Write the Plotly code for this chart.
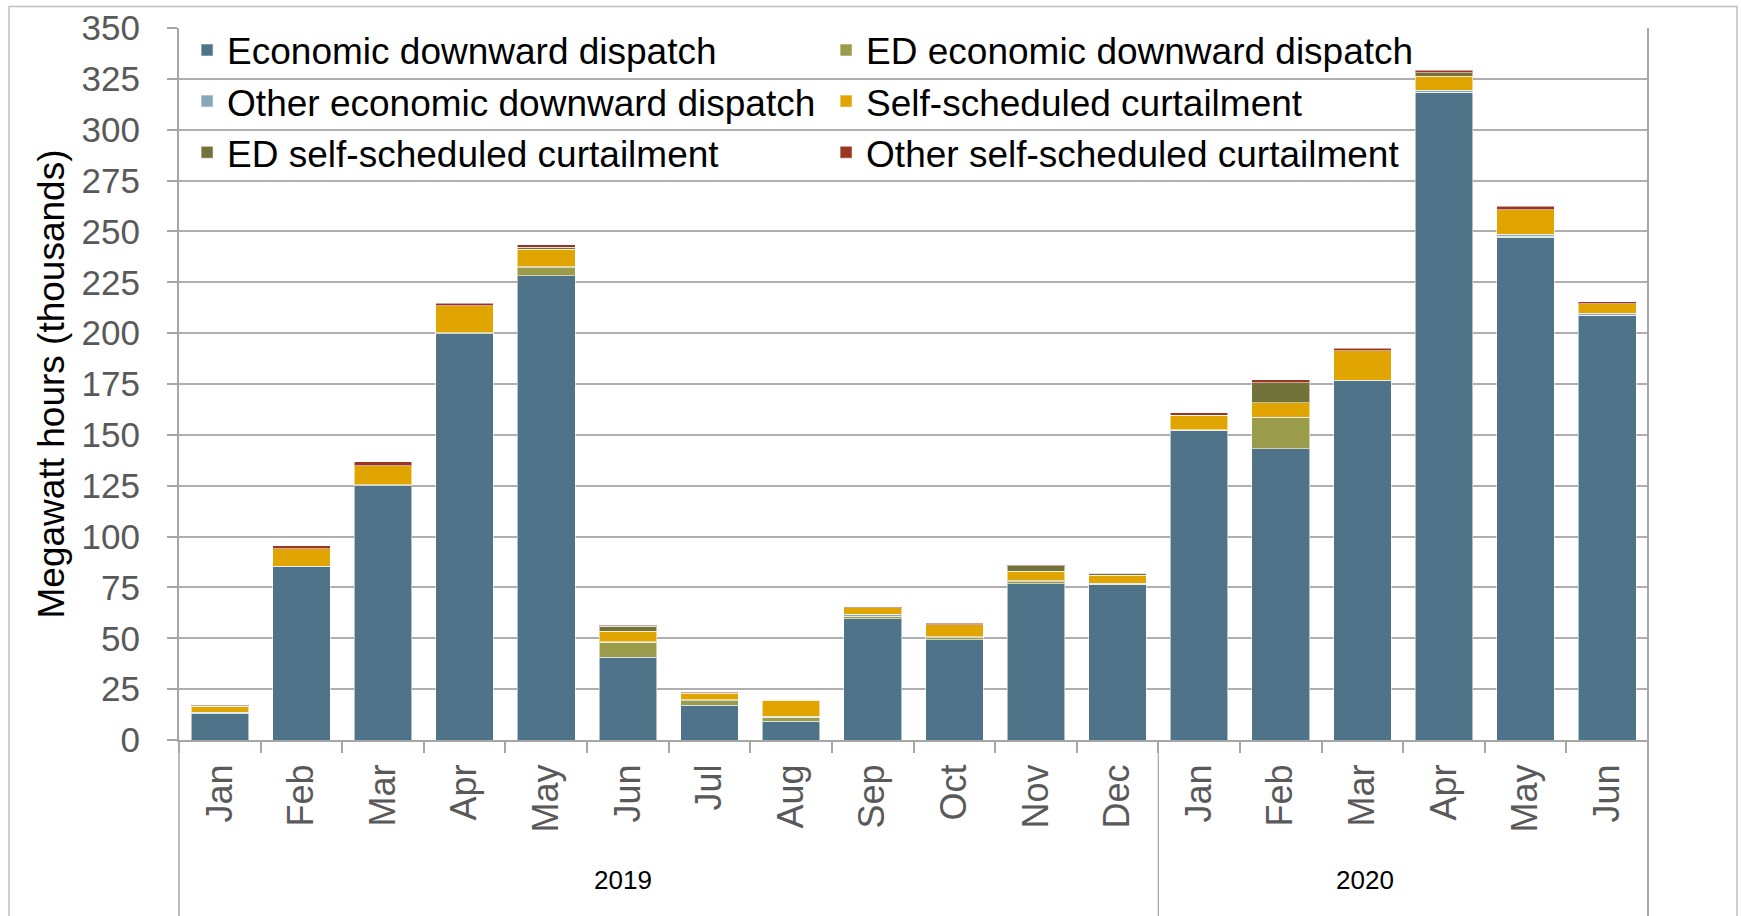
import plotly.graph_objects as go

# ---- data (thousands of MWh) ----
months = ["Jan", "Feb", "Mar", "Apr", "May", "Jun", "Jul", "Aug", "Sep", "Oct", "Nov", "Dec",
          "Jan", "Feb", "Mar", "Apr", "May", "Jun"]
years = ["2019", "2020"]
year_counts = [12, 6]

econ_dd = [13.1, 85.1, 125.1, 199.6, 228.2, 40.7, 17.1, 9.2, 59.6, 49.3, 76.7, 76.2,
           152.2, 143.1, 176.5, 318.4, 247.1, 208.7]
ed_econ_dd = [0.3, 0.0, 0.0, 0.0, 4.0, 7.3, 2.3, 2.0, 1.3, 0.9, 1.1, 0.4,
              0.0, 15.3, 0.0, 0.0, 0.5, 0.0]
other_econ_dd = [0.3, 0.3, 0.3, 0.5, 0.5, 0.3, 0.3, 0.6, 0.8, 0.5, 0.5, 0.4,
                 0.3, 0.3, 0.3, 1.0, 1.0, 1.0]
self_sched = [3.0, 8.7, 9.4, 13.4, 8.5, 5.2, 3.3, 7.7, 3.3, 5.9, 4.6, 4.0,
              7.2, 7.0, 14.5, 7.0, 12.0, 4.7]
ed_self_sched = [0.0, 0.0, 0.0, 0.0, 1.0, 2.5, 0.2, 0.0, 0.0, 0.0, 2.8, 0.9,
                 0.0, 10.0, 0.0, 1.5, 0.0, 0.0]
other_self_sched = [0.5, 1.3, 2.0, 1.3, 1.2, 0.3, 0.2, 0.2, 0.5, 0.7, 0.5, 0.4,
                    1.2, 1.5, 1.3, 1.3, 1.8, 1.0]

series_names = ["Economic downward dispatch", "ED economic downward dispatch",
                "Other economic downward dispatch", "Self-scheduled curtailment",
                "ED self-scheduled curtailment", "Other self-scheduled curtailment"]
series_values = [econ_dd, ed_econ_dd, other_econ_dd, self_sched, ed_self_sched, other_self_sched]
series_colors = ["#4F7489", "#9A9B4B", "#86A8BA", "#E0A500", "#72733A", "#9B3421"]

FONT = "Liberation Sans, Arial, sans-serif"
GRID = "#AFAFAF"
AXIS = "#A6A6A6"

x_pos = list(range(len(months)))

fig = go.Figure()
for name, vals, col in zip(series_names, series_values, series_colors):
    fig.add_trace(go.Bar(
        x=x_pos, y=vals, name=name,
        marker=dict(color=col, line=dict(color="rgba(255,255,255,0.55)", width=1)),
    ))

n = len(months)
fig.update_layout(
    width=1741, height=916,
    barmode="stack", bargap=0.294,
    paper_bgcolor="white", plot_bgcolor="white",
    margin=dict(l=179, r=93, t=28, b=176, autoexpand=False),
    font=dict(family=FONT, color="#000000"),
    legend=dict(
        orientation="h", x=0.0055, xanchor="left", y=1.012, yanchor="top",
        traceorder="normal", entrywidth=594, entrywidthmode="pixels",
        font=dict(size=37, color="#000000", family=FONT),
        bgcolor="rgba(0,0,0,0)", itemclick=False,
    ),
    xaxis=dict(
        range=[-0.5, n - 0.5], tickmode="array", tickvals=x_pos, ticktext=months,
        tickangle=-90, ticks="", showgrid=False, zeroline=False,
        showline=True, linecolor=AXIS, linewidth=2,
        tickfont=dict(size=36, color="#595959", family=FONT),
        ticklabelstandoff=8,
        minor=dict(ticks="outside", tick0=-0.5, dtick=1, ticklen=11,
                   tickcolor=AXIS, tickwidth=1.5, showgrid=False),
    ),
    yaxis=dict(
        range=[0, 350], dtick=25, tick0=0, showgrid=True, gridcolor=GRID, gridwidth=1.6,
        zeroline=False, showline=True, linecolor=AXIS, linewidth=2,
        ticks="outside", ticklen=10, tickcolor=AXIS, tickwidth=1.5,
        ticklabelstandoff=20,
        tickfont=dict(size=35, color="#595959", family=FONT),
        title=dict(text="Megawatt hours (thousands)", standoff=6,
                   font=dict(size=37, color="#000000", family=FONT)),
    ),
)

# outer chart frame
fig.add_shape(type="rect", xref="paper", yref="paper",
              x0=-0.1157, x1=1.0606, y0=-0.30, y1=1.0302,
              line=dict(color="#BFBFBF", width=1.5), layer="below")
# plot right border and extended category separators
fig.add_shape(type="line", xref="paper", yref="paper", x0=1, x1=1, y0=1, y1=-0.30,
              line=dict(color=AXIS, width=2))
fig.add_shape(type="line", xref="paper", yref="paper", x0=0, x1=0, y0=0, y1=-0.30,
              line=dict(color=AXIS, width=1.5))
start = 0
for yr, cnt in zip(years, year_counts):
    end = start + cnt
    if end < n:
        fig.add_shape(type="line", xref="x", yref="paper", x0=end - 0.5, x1=end - 0.5,
                      y0=0, y1=-0.30, line=dict(color=AXIS, width=1.2))
    start = end

# year group labels
year_label_x = [4.94, 14.03]
for yr, xl in zip(years, year_label_x):
    fig.add_annotation(x=xl, xref="x", y=-0.196, yref="paper", text=yr, showarrow=False,
                       font=dict(size=26, color="#000000", family=FONT),
                       xanchor="center", yanchor="middle")

fig.write_html("out.html")
